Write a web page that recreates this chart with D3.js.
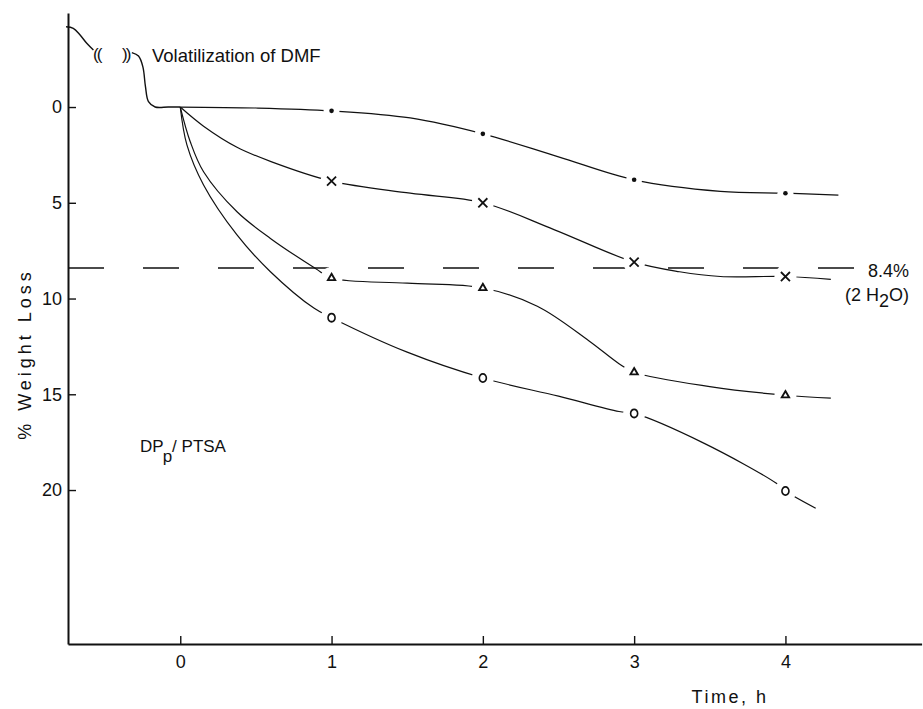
<!DOCTYPE html>
<html>
<head>
<meta charset="utf-8">
<script src="https://cdn.jsdelivr.net/npm/d3@7"></script>
<style>
  html, body { margin: 0; padding: 0; background: #fff; }
  svg { display: block; font-family: "Liberation Sans", Arial, sans-serif; }
</style>
</head>
<body>
<svg id="chart" width="923" height="709"></svg>
<script>
// Measurement times (h) and % weight loss at each marker
const timeH = [0, 1, 2, 3, 4];
const lossDot = [0, 0.2, 1.4, 3.8, 4.5];
const lossCross = [0, 3.87, 5.0, 8.1, 8.85];
const lossTriangle = [0, 8.93, 9.45, 13.85, 15.05];
const lossCircle = [0, 11.0, 14.15, 16.0, 20.05];

// Hand-drawn curve traces (time, loss) through and beyond the markers
const traceDotT = [0, 0.5, 1, 1.52, 2, 2.5, 3, 3.57, 4, 4.35];
const traceDotV = [0, 0.05, 0.2, 0.57, 1.4, 2.6, 3.8, 4.4, 4.5, 4.6];
const traceCrossT = [0, 0.154, 0.375, 0.6, 1, 1.52, 2, 2.47, 3, 3.3, 3.57, 4, 4.3];
const traceCrossV = [0, 1.0, 2.1, 2.85, 3.87, 4.5, 5.0, 6.4, 8.1, 8.6, 8.85, 8.85, 9.0];
const traceTriT = [0, 0.066, 0.154, 0.375, 0.596, 0.894, 1, 1.5, 2, 2.36, 2.7, 2.9, 3, 3.5, 4, 4.3];
const traceTriV = [0, 1.81, 3.38, 5.47, 6.86, 8.43, 8.93, 9.2, 9.45, 10.4, 12.2, 13.4, 13.85, 14.6, 15.05, 15.2];
const traceCircT = [0, 0.044, 0.154, 0.375, 0.596, 0.883, 1, 1.5, 2, 2.5, 2.9, 3, 3.46, 3.94, 4, 4.2];
const traceCircV = [0, 1.98, 4.07, 6.68, 8.6, 10.5, 11.0, 12.8, 14.15, 15.1, 15.9, 16.0, 17.55, 19.65, 20.05, 20.95];

// Pre-heating DMF volatilization trace, drawn in two pieces around the break
const dmfAT = [-0.755, -0.707, -0.662, -0.618, -0.574];
const dmfAV = [-4.19, -4.11, -3.76, -3.33, -2.98];
const dmfBT = [-0.32, -0.276, -0.247, -0.23, -0.21, -0.166, -0.08, 0];
const dmfBV = [-2.84, -2.66, -2.1, -1.06, -0.28, 0.0, 0.0, 0];

// Axis ticks and reference level
const xTicks = [0, 1, 2, 3, 4];
const yTicks = [0, 5, 10, 15, 20];
const waterLoss = 8.4;

const svg = d3.select("#chart");
const x = d3.scaleLinear().domain([-0.742, 4.9]).range([68, 921.6]);
const y = d3.scaleLinear().domain([-4.91, 28.04]).range([13, 644]);

// Axes with inward ticks
const xAxis = svg.append("g")
  .attr("transform", `translate(0,${y.range()[1]})`)
  .call(d3.axisBottom(x).tickValues(xTicks).tickFormat(d3.format("d"))
    .tickSizeInner(-8).tickSizeOuter(0).tickPadding(11));
const yAxis = svg.append("g")
  .attr("transform", `translate(${x.range()[0]},0)`)
  .call(d3.axisLeft(y).tickValues(yTicks).tickFormat(d3.format("d"))
    .tickSizeInner(-8).tickSizeOuter(0).tickPadding(6));
[xAxis, yAxis].forEach(g => {
  g.select(".domain").attr("stroke", "#111").attr("stroke-width", 2);
  g.selectAll(".tick line").attr("stroke", "#111").attr("stroke-width", 1.4);
  g.selectAll(".tick text").attr("fill", "#111")
    .style("font-size", "18px").style("font-family", "'Liberation Sans', Arial, sans-serif");
});

// Dashed level for loss of two water molecules
svg.append("line")
  .attr("x1", x.range()[0]).attr("x2", 858)
  .attr("y1", y(waterLoss)).attr("y2", y(waterLoss))
  .attr("stroke", "#111").attr("stroke-width", 1.5)
  .attr("stroke-dasharray", "36,39");

const line = d3.line().x(d => x(d[0])).y(d => y(d[1])).curve(d3.curveCatmullRom.alpha(0.5));
const zip = (a, b) => a.map((v, i) => [v, b[i]]);

// DMF volatilization curve
[[dmfAT, dmfAV], [dmfBT, dmfBV]].forEach(([t, v]) => {
  svg.append("path").attr("d", line(zip(t, v)))
    .attr("fill", "none").attr("stroke", "#111").attr("stroke-width", 1.4);
});

const series = [
  { t: traceDotT, v: traceDotV, m: lossDot, kind: "dot" },
  { t: traceCrossT, v: traceCrossV, m: lossCross, kind: "cross" },
  { t: traceTriT, v: traceTriV, m: lossTriangle, kind: "tri" },
  { t: traceCircT, v: traceCircV, m: lossCircle, kind: "circ" }
];

series.forEach(s => {
  svg.append("path").attr("d", line(zip(s.t, s.v)))
    .attr("fill", "none").attr("stroke", "#111").attr("stroke-width", 1.2);
});

// White halos open small gaps in the curves around each marker (t > 0)
series.forEach(s => {
  svg.append("g").selectAll("circle")
    .data(zip(timeH, s.m).filter(d => d[0] > 0))
    .join("circle")
    .attr("cx", d => x(d[0])).attr("cy", d => y(d[1]))
    .attr("r", s.kind === "dot" ? 8 : 11)
    .attr("fill", "#fff");
});

// Markers
const symFor = {
  cross: d3.symbol().type(d3.symbolTimes).size(55),
  tri: d3.symbol().type(d3.symbolTriangle2).size(38),
  circ: d3.symbol().type(d3.symbolCircle).size(48)
};
series.forEach(s => {
  const pts = zip(timeH, s.m).filter(d => d[0] > 0);
  const g = svg.append("g");
  if (s.kind === "dot") {
    g.selectAll("circle").data(pts).join("circle")
      .attr("cx", d => x(d[0])).attr("cy", d => y(d[1]))
      .attr("r", 2.3).attr("fill", "#111");
  } else {
    g.selectAll("path").data(pts).join("path")
      .attr("transform", d => `translate(${x(d[0])},${y(d[1])})` + (s.kind === "circ" ? " scale(0.9,1.05)" : ""))
      .attr("d", symFor[s.kind]())
      .attr("fill", "none").attr("stroke", "#111")
      .attr("stroke-width", s.kind === "tri" ? 1.9 : 1.8);
  }
});

// Break marks on the DMF curve
const txt = (sx, sy, str, size) => svg.append("text")
  .attr("x", sx).attr("y", sy).text(str)
  .attr("fill", "#111").style("font-size", size + "px");
txt(x(-0.576), y(-2.45), "((", 17).attr("letter-spacing", "-2px");
txt(x(-0.385), y(-2.45), "))", 17).attr("letter-spacing", "-2px");

// Annotations
txt(152, 62, "Volatilization of DMF", 18.5);
txt(868, 277, "8.4%", 18);
const h2o = svg.append("text").attr("x", 845).attr("y", 301)
  .attr("fill", "#111").style("font-size", "18px");
h2o.append("tspan").text("(2 H");
h2o.append("tspan").attr("dy", 6).text("2");
h2o.append("tspan").attr("dy", -6).text("O)");

const dp = svg.append("text").attr("x", 140).attr("y", 452)
  .attr("fill", "#111").style("font-size", "17px");
dp.append("tspan").text("DP");
dp.append("tspan").attr("dx", -1).attr("dy", 10).text("p");
dp.append("tspan").attr("dy", -10).attr("dx", 0).text("/ PTSA");

// Axis titles
svg.append("text").attr("x", 730).attr("y", 703)
  .attr("text-anchor", "middle").attr("fill", "#111")
  .attr("letter-spacing", "2.5px")
  .style("font-size", "18px").text("Time, h");
svg.append("text")
  .attr("transform", "translate(31,354) rotate(-90)")
  .attr("text-anchor", "middle").attr("fill", "#111")
  .attr("letter-spacing", "4px")
  .style("font-size", "18px").text("% Weight Loss");
</script>
</body>
</html>
